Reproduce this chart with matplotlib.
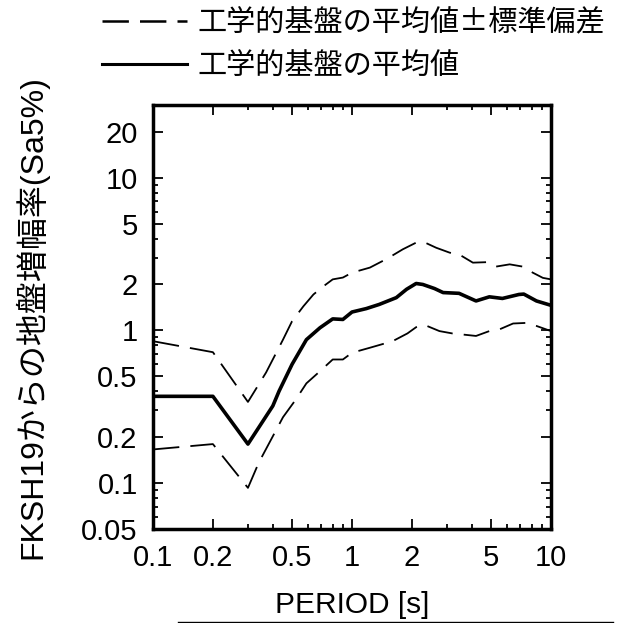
import numpy as np
import matplotlib.pyplot as plt
from matplotlib.lines import Line2D
from matplotlib.ticker import FixedLocator, NullFormatter

plt.rcParams['font.family'] = ['Liberation Sans', 'Noto Sans CJK JP']
plt.rcParams['lines.scale_dashes'] = False

# mean amplification of engineering bedrock (solid)
period_mean = [0.1, 0.2, 0.3, 0.35, 0.4, 0.43, 0.5, 0.59, 0.69, 0.8, 0.9, 1.0, 1.18,
               1.37, 1.67, 1.88, 2.1, 2.27, 2.6, 2.87, 3.45, 4.2, 4.9, 5.7, 6.9,
               7.3, 8.45, 10.0]
amp_mean = [0.37, 0.37, 0.18, 0.245, 0.32, 0.40, 0.60, 0.87, 1.04, 1.19, 1.18, 1.32,
            1.39, 1.48, 1.64, 1.86, 2.03, 2.0, 1.88, 1.77, 1.75, 1.56, 1.66, 1.62,
            1.72, 1.73, 1.56, 1.46]

# mean + std (upper dashed)
period_upper = [0.1, 0.2, 0.3, 0.37, 0.45, 0.5, 0.57, 0.64, 0.72, 0.8, 0.9, 1.0, 1.23,
                1.5, 1.8, 2.1, 2.3, 2.65, 3.1, 3.45, 4.05, 4.75, 5.3, 6.2, 7.2, 8.1,
                9.1, 10.0]
amp_upper = [0.85, 0.72, 0.34, 0.53, 0.87, 1.15, 1.44, 1.72, 1.95, 2.16, 2.22, 2.39,
             2.58, 2.95, 3.40, 3.76, 3.79, 3.48, 3.23, 3.15, 2.78, 2.80, 2.62, 2.71,
             2.62, 2.39, 2.21, 2.16]

# mean - std (lower dashed)
period_lower = [0.1, 0.2, 0.3, 0.34, 0.45, 0.52, 0.59, 0.69, 0.8, 0.9, 1.0, 1.23, 1.6,
                1.9, 2.1, 2.3, 2.75, 3.2, 3.6, 4.2, 4.9, 5.5, 6.45, 7.5, 8.45, 10.0]
amp_lower = [0.166, 0.18, 0.093, 0.136, 0.27, 0.35, 0.45, 0.54, 0.645, 0.645, 0.714,
             0.77, 0.85, 0.956, 1.05, 1.09, 0.99, 0.955, 0.94, 0.92, 0.99, 1.015,
             1.11, 1.12, 1.07, 0.99]

x_ticks = [0.1, 0.2, 0.5, 1, 2, 5, 10]
x_ticklabels = ['0.1', '0.2', '0.5', '1', '2', '5', '10']
y_ticks = [0.05, 0.1, 0.2, 0.5, 1, 2, 5, 10, 20]
y_ticklabels = ['0.05', '0.1', '0.2', '0.5', '1', '2', '5', '10', '20']
minor_subs = [3, 4, 6, 7, 8, 9]

label_std = '工学的基盤の平均値±標準偏差'
label_mean = '工学的基盤の平均値'

fig = plt.figure(figsize=(6.25, 6.23), dpi=100)
ax = fig.add_axes([0.2448, 0.1509, 0.6368, 0.6806])

dash = (0, (19, 8))
ax.plot(period_upper, amp_upper, color='black', lw=1.3, linestyle=dash)
ax.plot(period_lower, amp_lower, color='black', lw=1.3, linestyle=dash)
ax.plot(period_mean, amp_mean, color='black', lw=2.6)

ax.set_xscale('log')
ax.set_yscale('log')
ax.set_xlim(0.1, 10)
ax.set_ylim(0.05, 30)

minor_x = [s * d for d in (0.1, 1) for s in minor_subs]
minor_y = [s * d for d in (0.01, 0.1, 1) for s in minor_subs if 0.05 < s * d < 30]
ax.xaxis.set_major_locator(FixedLocator(x_ticks))
ax.xaxis.set_minor_locator(FixedLocator(minor_x))
ax.yaxis.set_major_locator(FixedLocator(y_ticks))
ax.yaxis.set_minor_locator(FixedLocator(minor_y))
ax.set_xticklabels(x_ticklabels)
ax.set_yticklabels(y_ticklabels)
ax.xaxis.set_minor_formatter(NullFormatter())
ax.yaxis.set_minor_formatter(NullFormatter())

ax.tick_params(which='both', direction='in', top=True, right=True, width=1.3,
               labelsize=21)
ax.tick_params(which='major', length=7.5)
ax.tick_params(which='minor', length=3.8)
ax.tick_params(axis='x', pad=11)
ax.tick_params(axis='y', pad=11)
for sp in ax.spines.values():
    sp.set_linewidth(2.5)

ax.set_xlabel('PERIOD [s]', fontsize=21.5)
ax.xaxis.set_label_coords(0.5, -0.147)
ax.set_ylabel('FKSH19からの地盤増幅率(Sa5%)', fontsize=23)
ax.yaxis.set_label_coords(-0.262, 0.5)

handles = [Line2D([], [], color='black', lw=1.8, linestyle=dash),
           Line2D([], [], color='black', lw=2.2)]
fig.legend(handles, [label_std, label_mean], loc='upper left',
           bbox_to_anchor=(0.145, 1.005), frameon=False,
           prop={'family': ['Noto Sans CJK JP'], 'size': 21},
           handlelength=2.9, handletextpad=0.35, labelspacing=0.45,
           borderaxespad=0.0)

fig.add_artist(Line2D([178 / 625, 613 / 625], [1.5 / 623, 1.5 / 623],
                      color='black', lw=1.0))

fig.savefig('out.png', dpi=100)
